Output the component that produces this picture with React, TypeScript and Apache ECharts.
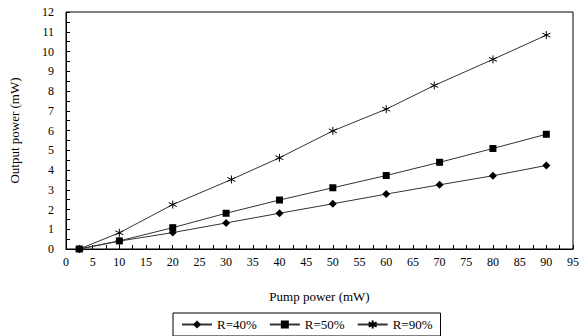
import React, { useEffect, useRef } from "react";
import * as echarts from "echarts";

const seriesNames = ["R=40%", "R=50%", "R=90%"];
const x40 = [2.5, 10, 20, 30, 40, 50, 60, 70, 80, 90];
const y40 = [0, 0.4, 0.83, 1.32, 1.81, 2.29, 2.78, 3.25, 3.71, 4.23];
const x50 = [2.5, 10, 20, 30, 40, 50, 60, 70, 80, 90];
const y50 = [0, 0.41, 1.08, 1.81, 2.48, 3.1, 3.72, 4.39, 5.09, 5.81];
const x90 = [2.5, 10, 20, 31, 40, 50, 60, 69, 80, 90];
const y90 = [0, 0.82, 2.25, 3.52, 4.62, 5.98, 7.08, 8.28, 9.6, 10.83];
const xTitle = "Pump power (mW)";
const yTitle = "Output power (mW)";

const FONT = "'Liberation Serif', 'Times New Roman', serif";
const asterisk = "path://M5,0L5,10M0.7,2.5L9.3,7.5M9.3,2.5L0.7,7.5";

const zip = (xs: number[], ys: number[]) => xs.map((x, i) => [x, ys[i]]);

export default function App() {
  const ref = useRef<HTMLDivElement>(null);
  useEffect(() => {
    if (!ref.current) return;
    const chart = echarts.init(ref.current, undefined, { renderer: "svg" });
    const lineStyle = { color: "#333", width: 1 };
    const axisCommon = {
      axisLine: { show: true, lineStyle: { color: "#000", width: 1 } },
      axisTick: { show: true, inside: true, length: 4, lineStyle: { color: "#000" } },
      minorTick: { show: true, splitNumber: 2, length: 4, lineStyle: { color: "#000" } },
      splitLine: { show: false },
      axisLabel: { color: "#000", fontFamily: FONT, fontSize: 12 },
      nameTextStyle: { color: "#000", fontFamily: FONT, fontSize: 13 },
    };
    chart.setOption({
      animation: false,
      backgroundColor: "#fff",
      grid: {
        left: 60,
        right: 13,
        top: 12,
        bottom: 87,
        show: true,
        borderColor: "#000",
        borderWidth: 1,
        backgroundColor: "transparent",
      },
      xAxis: {
        type: "value",
        min: 0,
        max: 95,
        interval: 5,
        name: xTitle,
        nameLocation: "middle",
        nameGap: 41,
        ...axisCommon,
        axisLabel: { ...axisCommon.axisLabel, margin: 7 },
      },
      yAxis: {
        type: "value",
        min: 0,
        max: 12,
        interval: 1,
        name: yTitle,
        nameLocation: "middle",
        nameGap: 45,
        ...axisCommon,
        axisLabel: { ...axisCommon.axisLabel, margin: 12 },
      },
      legend: {
        top: 313,
        left: 173,
        padding: [5, 8],
        itemWidth: 30,
        itemHeight: 10,
        itemGap: 12,
        borderColor: "#000",
        borderWidth: 1,
        borderRadius: 0,
        textStyle: { color: "#000", fontFamily: FONT, fontSize: 13 },
        data: seriesNames,
      },
      series: [
        {
          name: seriesNames[0],
          type: "line",
          data: zip(x40, y40),
          symbol: "diamond",
          symbolSize: 8,
          lineStyle,
          itemStyle: { color: "#000" },
        },
        {
          name: seriesNames[1],
          type: "line",
          data: zip(x50, y50),
          symbol: "rect",
          symbolSize: 7,
          lineStyle,
          itemStyle: { color: "#000" },
        },
        {
          name: seriesNames[2],
          type: "line",
          data: zip(x90, y90),
          symbol: asterisk,
          symbolSize: 8,
          lineStyle,
          itemStyle: { color: "#000", borderColor: "#000", borderWidth: 1 },
        },
      ],
    });
    return () => chart.dispose();
  }, []);
  return <div ref={ref} style={{ width: 586, height: 336, position: "fixed", left: 0, top: 0 }} />;
}
